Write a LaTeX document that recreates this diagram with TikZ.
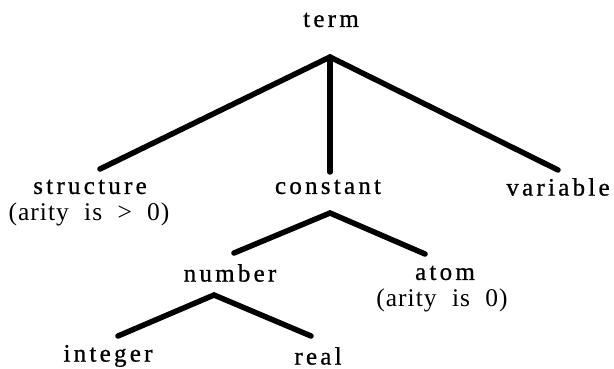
\documentclass[tikz,border=0pt]{standalone}
\usepackage{fontspec}
\setmainfont{Liberation Serif}
\newfontfamily\labfont[LetterSpace=13,FakeBold=0.8]{Liberation Serif}
\newfontfamily\notefont[LetterSpace=4]{Liberation Serif}
\begin{document}
\begin{tikzpicture}[x=1pt,y=-1pt,
  lab/.style={font=\labfont\fontsize{25}{28}\selectfont, inner sep=0pt},
  note/.style={font=\notefont\fontsize{25.5}{29}\selectfont, inner sep=0pt},
  edge/.style={line width=5.5pt, line cap=round, line join=miter}]
\useasboundingbox (0,0) rectangle (614,369);
% labels
\node[lab] (term) at (331,20) {term};
\node[lab] (structure) at (90,187) {structure};
\node[note] (arity1) at (89,214) {(arity\hspace{.6em}is\hspace{.6em}>\hspace{.6em}0)};
\node[lab] (constant) at (328,187) {constant};
\node[lab] (variable) at (558,187) {variable};
\node[lab] (number) at (230,273) {number};
\node[lab] (atom) at (445,273) {atom};
\node[note] (arity0) at (442,300) {(arity\hspace{.6em}is\hspace{.6em}0)};
\node[lab] (integer) at (108,356) {integer};
\node[lab] (real) at (318,356) {real};
% junctions and ends
\coordinate (tj) at (330,57);
\coordinate (cj) at (330,213);
\coordinate (nj) at (214,295);
\coordinate (se) at (100,169);
\coordinate (ce) at (330,172);
\coordinate (ve) at (558,170);
\coordinate (ne) at (234,253);
\coordinate (ae) at (425,254);
\coordinate (ie) at (118,336);
\coordinate (re) at (311,336);
\draw[edge] (se) -- (tj) -- (ve);
\draw[edge] (tj) -- (ce);
\draw[edge] (ne) -- (cj) -- (ae);
\draw[edge] (ie) -- (nj) -- (re);
\end{tikzpicture}
\end{document}
